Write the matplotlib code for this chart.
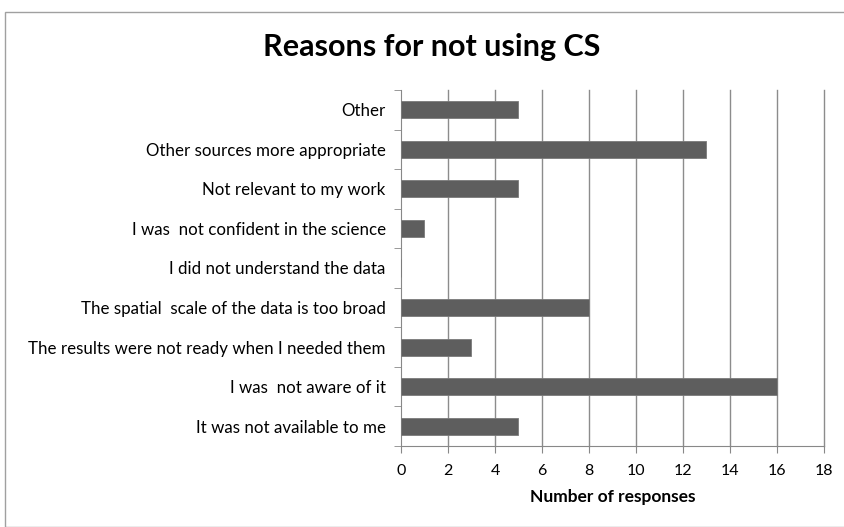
import matplotlib.pyplot as plt
from matplotlib.patches import Rectangle

# datos
categorias = ['It was not available to me',
              'I was  not aware of it',
              'The results were not ready when I needed them',
              'The spatial  scale of the data is too broad',
              'I did not understand the data',
              'I was  not confident in the science',
              'Not relevant to my work',
              'Other sources more appropriate',
              'Other']
respuestas = [5, 16, 3, 8, 0, 1, 5, 13, 5]
ticks_x = [0, 2, 4, 6, 8, 10, 12, 14, 16, 18]

plt.rcParams['font.family'] = ['Lato', 'DejaVu Sans']

fig = plt.figure(figsize=(8.45, 5.27), dpi=100)
ax = fig.add_axes([401/845, 1-446/527, 423/845, 356/527])

# marco de la figura
fig.patches.append(Rectangle((5/845, 0), 1, 1-12/527, transform=fig.transFigure,
                             fill=False, edgecolor='#a0a0a0', lw=1))

y = range(len(categorias))
ax.barh(y, respuestas, height=0.43, color='#5e5e5e', edgecolor='#7a7a7a', lw=0.6, zorder=3)

ax.set_xlim(0, 18)
ax.set_ylim(-0.5, len(categorias) - 0.5)
ax.set_xticks(ticks_x)
ax.set_xticklabels([str(t) for t in ticks_x], fontsize=11.5)
ax.set_yticks(list(y))
ax.set_yticklabels(categorias, fontsize=12.2)
ax.set_yticks([i - 0.5 for i in range(len(categorias) + 1)], minor=True)
ax.tick_params(axis='y', which='major', length=0, pad=11)
ax.tick_params(axis='y', which='minor', length=5, color='#888888')
ax.tick_params(axis='x', length=5, color='#888888', pad=8)

# lineas de cuadricula
for t in ticks_x[1:]:
    ax.axvline(t, color='#8c8c8c', lw=1, zorder=0, clip_on=False)
for s in ['top', 'right']:
    ax.spines[s].set_visible(False)
ax.spines['left'].set_color('#888888')
ax.spines['bottom'].set_color('#888888')

ax.set_xlabel('Number of responses', fontsize=12.5, fontweight='bold', labelpad=8)
fig.text(432/845, 1-47/527, 'Reasons for not using CS', fontsize=22, fontweight='bold',
         ha='center', va='center')

fig.savefig('out.png', dpi=100)
